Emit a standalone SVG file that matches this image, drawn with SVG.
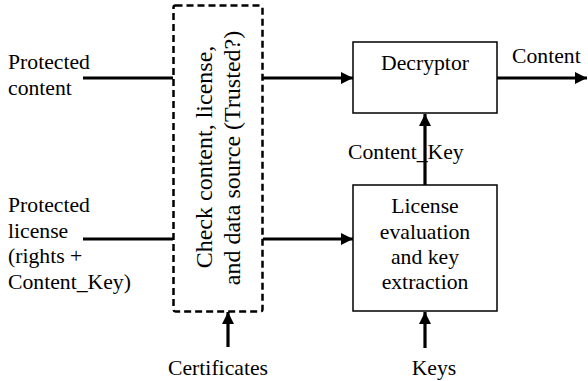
<svg xmlns="http://www.w3.org/2000/svg" width="588" height="381" viewBox="0 0 588 381">
<style>
text{font-family:"Liberation Serif","Times New Roman",serif;font-size:21.7px;fill:#000}
.c{text-anchor:middle}
.box{fill:#fff;stroke:#000;stroke-width:1.5}
.dash{fill:none;stroke:#000;stroke-width:2.5;stroke-dasharray:7,4}
.ln{stroke:#000;stroke-width:3.2;fill:none}
.rot{font-size:24px}
</style>
<defs>
<marker id="ah" markerUnits="userSpaceOnUse" markerWidth="13" markerHeight="12" refX="12" refY="6" orient="auto">
<path d="M0,0 L12,6 L0,12 Z" fill="#000"/>
</marker>
</defs>
<rect width="588" height="381" fill="#fff"/>
<g id="connectors">
<line class="ln" x1="83" y1="78" x2="173" y2="78"/>
<line class="ln" x1="83" y1="239" x2="173" y2="239"/>
<line class="ln" x1="263" y1="78" x2="353" y2="78" marker-end="url(#ah)"/>
<line class="ln" x1="263" y1="239" x2="353" y2="239" marker-end="url(#ah)"/>
<line class="ln" x1="497" y1="78" x2="587" y2="78" marker-end="url(#ah)"/>
<line class="ln" x1="425" y1="185" x2="425" y2="114" marker-end="url(#ah)"/>
<line class="ln" x1="425" y1="348" x2="425" y2="312" marker-end="url(#ah)"/>
<line class="ln" x1="228" y1="347" x2="228" y2="312" marker-end="url(#ah)"/>
</g>
<g id="check">
<rect class="dash" x="173.5" y="5.5" width="89" height="306" rx="2"/>
<g transform="translate(211.5,157) rotate(-90)"><text class="c rot" x="0" y="0">Check content, license,</text></g>
<g transform="translate(240,158) rotate(-90)"><text class="c rot" x="0" y="0">and data source (Trusted?)</text></g>
</g>
<g id="decryptor">
<rect class="box" x="353" y="42" width="144" height="71"/>
<text class="c" x="425" y="70">Decryptor</text>
</g>
<g id="license">
<rect class="box" x="353" y="185" width="144" height="126"/>
<text class="c" x="425" y="212.5">License</text>
<text class="c" x="425" y="238.5">evaluation</text>
<text class="c" x="425" y="263.5">and key</text>
<text class="c" x="425" y="289">extraction</text>
</g>
<g id="in-content">
<text x="8" y="69">Protected</text>
<text x="8" y="94.5">content</text>
</g>
<g id="in-license">
<text x="8" y="212">Protected</text>
<text x="8" y="237.5">license</text>
<text x="8" y="263">(rights +</text>
<text x="8" y="288.5">Content_Key)</text>
</g>
<g id="out-content"><text x="512" y="63">Content</text></g>
<g id="lbl-key"><text x="348" y="159">Content_Key</text></g>
<g id="certificates"><text class="c" x="218" y="374.5">Certificates</text></g>
<g id="keys"><text class="c" x="434" y="374.5">Keys</text></g>
</svg>
